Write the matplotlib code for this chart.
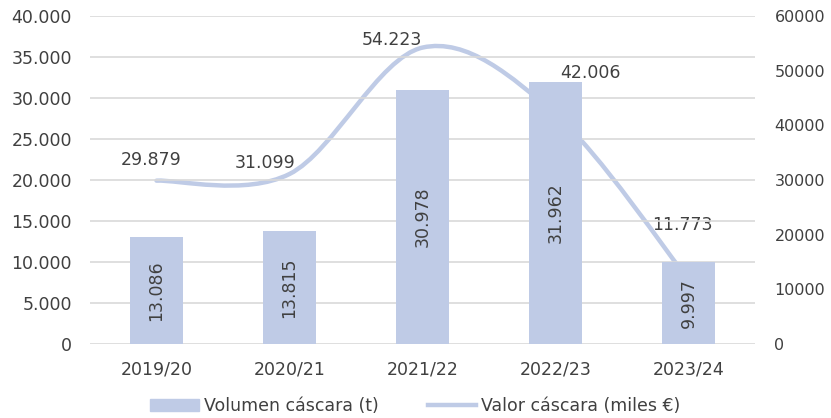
import matplotlib
matplotlib.use("Agg")
import matplotlib.pyplot as plt
from matplotlib.path import Path
from matplotlib.patches import PathPatch
from matplotlib.lines import Line2D
from matplotlib.patches import Patch
from matplotlib.ticker import FuncFormatter

# ------------------------------------------------------------------
# Data
# ------------------------------------------------------------------
campanas = ["2019/20", "2020/21", "2021/22", "2022/23", "2023/24"]
volumen = [13086, 13815, 30978, 31962, 9997]
valor = [29879, 31099, 54223, 42006, 11773]

# label offsets for the line values (pixels), placed as in the original
valor_offsets = [(-5, 21), (-24, 11), (-31, 8), (35, 41), (-6, 55)]

color = "#BFCBE6"
text_color = "#404040"
fs = 12.5

plt.rcParams["font.family"] = ["DejaVu Sans"]
plt.rcParams["text.color"] = text_color

fig = plt.figure(figsize=(8.31, 4.18), dpi=100)
ax = fig.add_axes([90 / 831, 74 / 418, 665 / 831, 328 / 418])
ax2 = ax.twinx()

x = list(range(len(campanas)))

# ------------------------------------------------------------------
# Bars (left axis)
# ------------------------------------------------------------------
bars = ax.bar(x, volumen, width=0.4, color=color, zorder=3)
for xi, v in zip(x, volumen):
    ax.text(xi, v / 2, f"{v:,}".replace(",", "."), rotation=90,
            ha="center", va="center", fontsize=fs, color=text_color, zorder=4)

ax.set_ylim(0, 40000)
ax.set_yticks(range(0, 40001, 5000))
ax.yaxis.set_major_formatter(FuncFormatter(lambda v, p: f"{int(v):,}".replace(",", ".")))
ax.set_xlim(-0.5, len(campanas) - 0.5)
ax.set_xticks(x)
ax.set_xticklabels(campanas)
ax.grid(axis="y", color="#D9D9D9", lw=1.2, zorder=0)
ax.set_axisbelow(True)

# ------------------------------------------------------------------
# Smoothed line (right axis), Excel style bezier
# ------------------------------------------------------------------
ax2.set_ylim(0, 60000)
ax2.set_yticks(range(0, 60001, 10000))
pts = list(zip(x, valor))
verts = [pts[0]]
codes = [Path.MOVETO]
for i in range(len(pts) - 1):
    p0 = pts[i - 1] if i > 0 else pts[i]
    p1 = pts[i]
    p2 = pts[i + 1]
    p3 = pts[i + 2] if i + 2 < len(pts) else pts[i + 1]
    c1 = (p1[0] + (p2[0] - p0[0]) / 6, p1[1] + (p2[1] - p0[1]) / 6)
    c2 = (p2[0] - (p3[0] - p1[0]) / 6, p2[1] - (p3[1] - p1[1]) / 6)
    verts += [c1, c2, p2]
    codes += [Path.CURVE4] * 3
ax2.add_patch(PathPatch(Path(verts, codes), fill=False, edgecolor=color,
                        lw=3.2, capstyle="round", zorder=2))
ax.set_zorder(ax2.get_zorder() + 1)
ax.patch.set_visible(False)

for xi, v, off in zip(x, valor, valor_offsets):
    ax2.annotate(f"{v:,}".replace(",", "."), (xi, v), xytext=off,
                 textcoords="offset pixels", ha="center", va="center",
                 fontsize=fs, color=text_color)

# ------------------------------------------------------------------
# Styling
# ------------------------------------------------------------------
for a in (ax, ax2):
    for s in a.spines.values():
        s.set_visible(False)
    a.tick_params(length=0, labelsize=fs, colors=text_color)
ax.tick_params(axis="y", pad=13)
ax.tick_params(axis="x", pad=12)
ax2.tick_params(axis="y", pad=14, labelsize=11.5)

handles = [Patch(color=color), Line2D([0], [0], color=color, lw=3.2)]
fig.legend(handles, ["Volumen cáscara (t)", "Valor cáscara (miles €)"],
           loc="lower center", bbox_to_anchor=(0.5, -0.03), ncol=2,
           frameon=False, fontsize=fs, handlelength=2.8, columnspacing=2.8,
           handletextpad=0.3)

fig.savefig("out.png", dpi=100)
